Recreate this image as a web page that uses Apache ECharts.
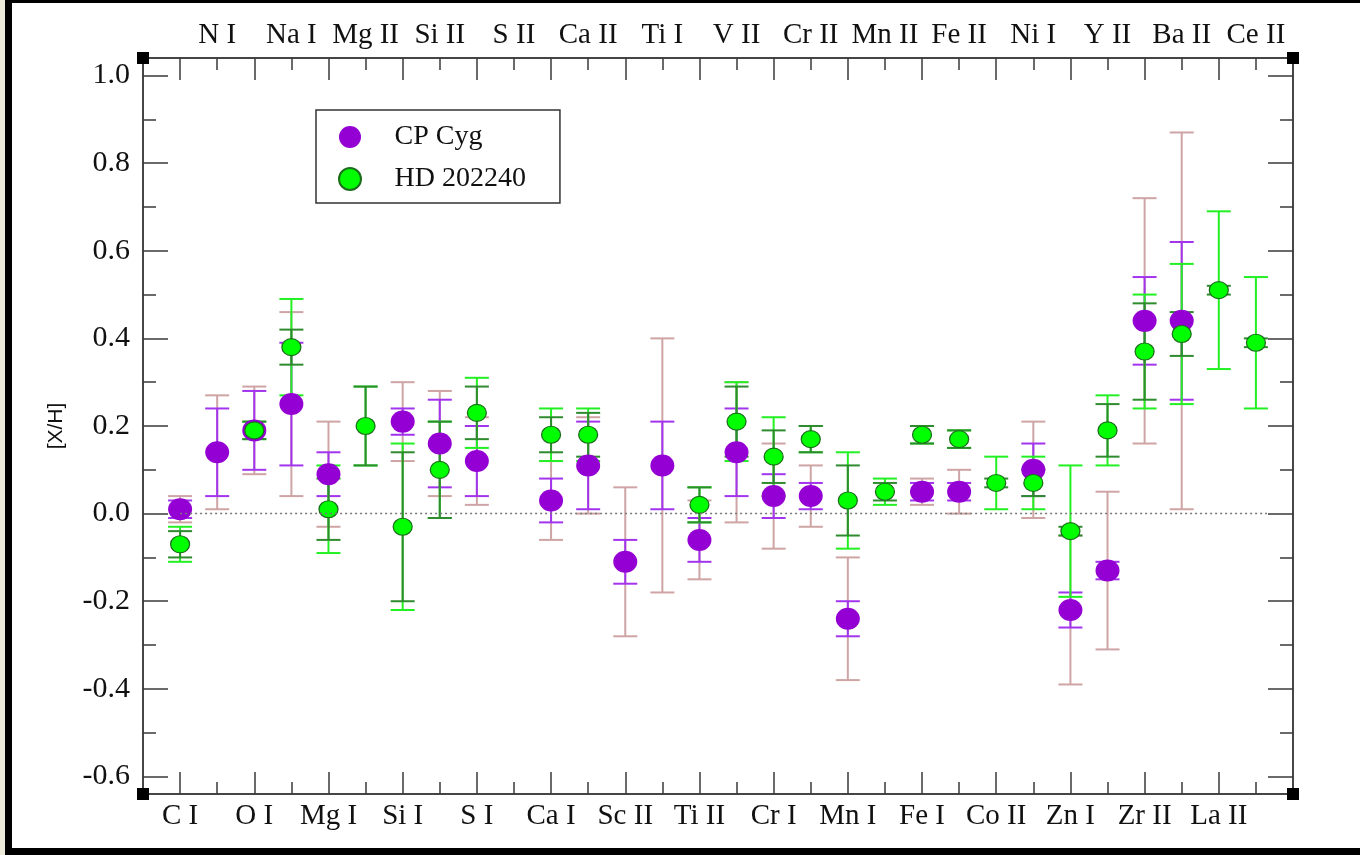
<!DOCTYPE html>
<html>
<head>
<meta charset="UTF-8">
<title>[X/H] CP Cyg / HD 202240</title>
<style>
  html, body { margin: 0; padding: 0; background: #fff; }
  #echart { position: absolute; left: 0; top: 0; width: 1360px; height: 855px; }
  #frame { position: absolute; left: 0; top: 0; width: 1360px; height: 855px; box-sizing: border-box;
           border-left: 12px solid #000; border-top: 3px solid #000; border-bottom: 7px solid #000; pointer-events: none; }
  #strip { position: absolute; left: 0; top: 0; width: 5px; height: 855px; background: #eceadb; pointer-events: none; }
</style>
</head>
<body>
<div id="echart"></div>
<div id="frame"></div>
<div id="strip"></div>
<script src="https://cdn.jsdelivr.net/npm/echarts@6/dist/echarts.min.js"></script>
<script type="text/javascript">
// element / ion names, positions 1..30 (odd ones labelled at the bottom, even ones on top)
var elements = ['C I', 'N I', 'O I', 'Na I', 'Mg I', 'Mg II', 'Si I', 'Si II', 'S I', 'S II',
  'Ca I', 'Ca II', 'Sc II', 'Ti I', 'Ti II', 'V II', 'Cr I', 'Cr II', 'Mn I', 'Mn II',
  'Fe I', 'Fe II', 'Co II', 'Ni I', 'Zn I', 'Y II', 'Zr II', 'Ba II', 'La II', 'Ce II'];

// CP Cyg
var cpVal = [0.01, 0.14, 0.19, 0.25, 0.09, null, 0.21, 0.16, 0.12, null,
  0.03, 0.11, -0.11, 0.11, -0.06, 0.14, 0.04, 0.04, -0.24, null,
  0.05, 0.05, null, 0.10, -0.22, -0.13, 0.44, 0.44, null, null];
var cpErrIn = [0.02, 0.10, 0.09, 0.14, 0.05, null, 0.03, 0.10, 0.08, null,
  0.05, 0.10, 0.05, 0.10, 0.05, 0.10, 0.05, 0.03, 0.04, null,
  0.02, 0.02, null, 0.06, 0.04, 0.02, 0.10, 0.18, null, null];
var cpErrOut = [0.03, 0.13, 0.10, 0.21, 0.12, null, 0.09, 0.12, 0.10, null,
  0.09, 0.11, 0.17, 0.29, 0.09, 0.16, 0.12, 0.07, 0.14, null,
  0.03, 0.05, null, 0.11, 0.17, 0.18, 0.28, 0.43, null, null];

// HD 202240
var hdVal = [-0.07, null, 0.19, 0.38, 0.01, 0.20, -0.03, 0.10, 0.23, null,
  0.18, 0.18, null, null, 0.02, 0.21, 0.13, 0.17, 0.03, 0.05,
  0.18, 0.17, 0.07, 0.07, -0.04, 0.19, 0.37, 0.41, 0.51, 0.39];
var hdErrIn = [0.03, null, 0.02, 0.04, 0.07, 0.09, 0.17, 0.11, 0.06, null,
  0.04, 0.05, null, null, 0.04, 0.08, 0.06, 0.03, 0.08, 0.02,
  0.02, 0.02, 0.01, 0.03, 0.01, 0.06, 0.11, 0.05, 0.01, 0.01];
var hdErrOut = [0.04, null, 0.02, 0.11, 0.10, 0.09, 0.19, 0.11, 0.08, null,
  0.06, 0.06, null, null, 0.04, 0.09, 0.09, 0.03, 0.11, 0.03,
  0.02, 0.02, 0.06, 0.06, 0.15, 0.08, 0.13, 0.16, 0.18, 0.15];

var yMajor = [-0.6, -0.4, -0.2, 0.0, 0.2, 0.4, 0.6, 0.8, 1.0];
var yMinor = [-0.5, -0.3, -0.1, 0.1, 0.3, 0.5, 0.7, 0.9];
var xOdd = [1, 3, 5, 7, 9, 11, 13, 15, 17, 19, 21, 23, 25, 27, 29];
var xEven = [2, 4, 6, 8, 10, 12, 14, 16, 18, 20, 22, 24, 26, 28, 30];
var zeroLineX = [1, 30.3];

var X_MIN = 0, X_MAX = 31, Y_MIN = -0.64, Y_MAX = 1.04;
var serif = 'Liberation Serif';
var axisColor = '#3a3a3a';

function points(vals) {
  var out = [];
  for (var i = 0; i < vals.length; i++) {
    if (vals[i] !== null) out.push([i + 1, vals[i]]);
  }
  return out;
}
function bars(vals, errs) {
  var out = [];
  for (var i = 0; i < vals.length; i++) {
    if (vals[i] !== null && errs[i] !== null) out.push([i + 1, vals[i], errs[i]]);
  }
  return out;
}

// error bar with caps, drawn through the axes
function errSeries(name, data, color) {
  return {
    name: name,
    type: 'custom',
    silent: true,
    encode: { x: 0, y: 1 },
    data: data,
    renderItem: function (params, api) {
      var x = api.value(0), y = api.value(1), e = api.value(2);
      var top = api.coord([x, y + e]);
      var bot = api.coord([x, y - e]);
      var half = 12;
      var st = { stroke: color, lineWidth: 2 };
      return {
        type: 'group',
        children: [
          { type: 'line', shape: { x1: top[0], y1: top[1], x2: bot[0], y2: bot[1] }, style: st },
          { type: 'line', shape: { x1: top[0] - half, y1: top[1], x2: top[0] + half, y2: top[1] }, style: st },
          { type: 'line', shape: { x1: bot[0] - half, y1: bot[1], x2: bot[0] + half, y2: bot[1] }, style: st }
        ]
      };
    }
  };
}

function xAx(pos, ticks, len, labels) {
  return {
    type: 'value', position: pos, min: X_MIN, max: X_MAX,
    axisLine: { show: true, onZero: false, lineStyle: { color: axisColor, width: 1.5 } },
    axisTick: { show: true, inside: true, length: len, customValues: ticks, lineStyle: { color: axisColor, width: 1.5 } },
    axisLabel: labels ? {
      show: true, customValues: labels, margin: 8,
      formatter: function (v) { return elements[Math.round(v) - 1] || ''; },
      fontFamily: serif, fontSize: 29, color: '#111'
    } : { show: false },
    splitLine: { show: false }
  };
}
function yAx(pos, ticks, len, withLabels) {
  var ax = {
    type: 'value', position: pos, min: Y_MIN, max: Y_MAX,
    axisLine: { show: true, onZero: false, lineStyle: { color: axisColor, width: 1.5 } },
    axisTick: { show: true, inside: true, length: len, customValues: ticks, lineStyle: { color: axisColor, width: 1.5 } },
    axisLabel: { show: false },
    splitLine: { show: false }
  };
  if (withLabels) {
    ax.axisLabel = {
      show: true, customValues: ticks, margin: 13,
      formatter: function (v) { return v.toFixed(1); },
      fontFamily: serif, fontSize: 30, color: '#111'
    };
    ax.name = '[X/H]';
    ax.nameLocation = 'middle';
    ax.nameGap = 76;
    ax.nameRotate = 90;
    ax.nameTextStyle = { fontFamily: 'Liberation Sans', fontSize: 21, color: '#111' };
  }
  return ax;
}

var myChart = echarts.init(document.getElementById('echart'));

myChart.setOption({
  animation: false,
  backgroundColor: '#fff',
  grid: { left: 143, top: 58, width: 1150, height: 736, outerBoundsMode: 'none' },
  legend: {
    data: ['CP Cyg', 'HD 202240'],
    orient: 'vertical',
    left: 316, top: 110,
    padding: [13, 34, 10, 22],
    itemWidth: 23, itemHeight: 22, itemGap: 14,
    borderColor: '#333', borderWidth: 1.5,
    textStyle: { fontFamily: serif, fontSize: 28, color: '#111', padding: [0, 0, 0, 28] }
  },
  xAxis: [
    xAx('bottom', xOdd, 22, xOdd),
    xAx('bottom', xEven, 12, null),
    xAx('top', xOdd, 22, xEven),
    xAx('top', xEven, 12, null)
  ],
  yAxis: [
    yAx('left', yMajor, 25, true),
    yAx('left', yMinor, 13, false),
    yAx('right', yMajor, 25, false),
    yAx('right', yMinor, 13, false)
  ],
  series: [
    {
      name: 'zero', type: 'line', silent: true, symbol: 'none',
      data: [[zeroLineX[0], 0], [zeroLineX[1], 0]],
      lineStyle: { color: '#777', width: 1.5, type: [2, 3] }
    },
    errSeries('cp-out', bars(cpVal, cpErrOut), '#cfa4a4'),
    errSeries('cp-in', bars(cpVal, cpErrIn), '#a334ee'),
    {
      name: 'CP Cyg', type: 'scatter', data: points(cpVal),
      symbol: 'circle', symbolSize: [24, 22],
      itemStyle: { color: '#9400d3', opacity: 1 }
    },
    errSeries('hd-out', bars(hdVal, hdErrOut), '#22f022'),
    errSeries('hd-in', bars(hdVal, hdErrIn), '#2e8b2e'),
    {
      name: 'HD 202240', type: 'scatter', data: points(hdVal),
      symbol: 'circle', symbolSize: [19, 17],
      itemStyle: { color: '#00ff00', borderColor: '#1c6e1c', borderWidth: 1.2, opacity: 1 }
    }
  ]
});

// small black squares on the frame corners
var corners = [[X_MIN, Y_MAX], [X_MAX, Y_MAX], [X_MIN, Y_MIN], [X_MAX, Y_MIN]];
var sq = [];
corners.forEach(function (c) {
  var p = myChart.convertToPixel({ xAxisIndex: 0, yAxisIndex: 0 }, c);
  sq.push({ type: 'rect', shape: { x: p[0] - 6, y: p[1] - 6, width: 12, height: 12 }, style: { fill: '#000' }, z: 100 });
});
myChart.setOption({ graphic: sq });
</script>
</body>
</html>
